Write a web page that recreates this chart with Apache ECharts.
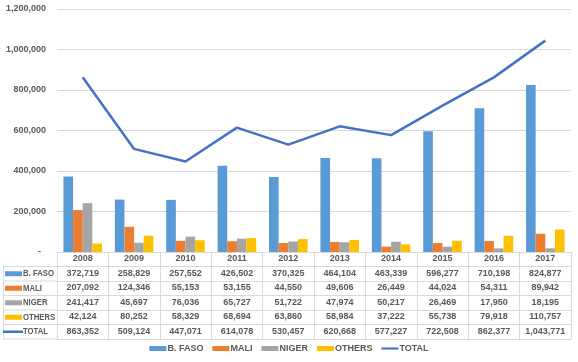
<!DOCTYPE html>
<html>
<head>
<meta charset="utf-8">
<script src="https://cdn.jsdelivr.net/npm/echarts@6/dist/echarts.min.js"></script>
<style>html,body{margin:0;padding:0;background:#fff;}#c{width:578px;height:362px;}</style>
</head>
<body>
<div id="c"></div>
<script>
const years = ['2008','2009','2010','2011','2012','2013','2014','2015','2016','2017'];
const bfaso = [372719,258829,257552,426502,370325,464104,463339,596277,710198,824877];
const mali = [207092,124346,55153,53155,44550,49606,26449,44024,54311,89942];
const niger = [241417,45697,76036,65727,51722,47974,50217,26469,17950,18195];
const others = [42124,80252,58329,68694,63860,58984,37222,55738,79918,110757];
const total = [863352,509124,447071,614078,530457,620668,577227,722508,862377,1043771];
const rowNames = ['B. FASO','MALI','NIGER','OTHERS','TOTAL'];
const yTicks = [0,200000,400000,600000,800000,1000000,1200000];

const colors = ['#5B9BD5','#ED7D31','#A5A5A5','#FFC000','#4472C4'];
const rows = [bfaso, mali, niger, others, total];
const txt = '#595959';
const lineC = '#D9D9D9';
const FONT = 'Liberation Sans, Arial, sans-serif';
const W = 578, H = 362;
const gridL = 57, gridR = 7, gridT = 9, gridB = 110;
const axisY = H - gridB;
const rowH = 14.5;
const fmt = v => v.toLocaleString('en-US');

const labelStyle = {fontSize: 9, fontWeight: 'bold', color: txt, fontFamily: FONT};

const xAxes = [];
xAxes.push({
  type: 'category', data: years, position: 'bottom', offset: 0,
  axisLine: {show: true, lineStyle: {color: lineC, width: 1}},
  axisTick: {show: true, interval: 0, length: rowH, lineStyle: {color: lineC}},
  axisLabel: Object.assign({interval: 0, margin: 7, verticalAlign: 'middle'}, labelStyle)
});
rows.forEach((arr, k) => {
  xAxes.push({
    type: 'category', data: years, position: 'bottom', offset: rowH * (k + 1),
    axisLine: {show: true, lineStyle: {color: lineC, width: 1}},
    axisTick: {show: true, interval: 0, length: rowH, lineStyle: {color: lineC}},
    axisLabel: Object.assign({interval: 0, margin: 7, verticalAlign: 'middle',
      formatter: (v, i) => fmt(arr[i])}, labelStyle)
  });
});
xAxes.push({
  type: 'category', data: years, position: 'bottom', offset: rowH * 6,
  axisLine: {show: true, lineStyle: {color: lineC, width: 1}},
  axisTick: {show: false}, axisLabel: {show: false}
});

const graphics = [];
for (let k = 1; k <= 6; k++) {
  const y = axisY + rowH * k;
  graphics.push({type: 'line', shape: {x1: 3, y1: y, x2: gridL, y2: y}, style: {stroke: lineC, lineWidth: 1}, silent: true});
}
graphics.push({type: 'line', shape: {x1: 3.5, y1: axisY + rowH, x2: 3.5, y2: axisY + rowH * 6}, style: {stroke: lineC, lineWidth: 1}, silent: true});
rowNames.forEach((n, k) => {
  const yMid = axisY + rowH * (k + 1) + rowH / 2;
  if (k < 4) {
    graphics.push({type: 'rect', shape: {x: 5, y: yMid - 2.5, width: 17, height: 5}, style: {fill: colors[k]}, silent: true});
  } else {
    graphics.push({type: 'line', shape: {x1: 3, y1: yMid, x2: 23, y2: yMid}, style: {stroke: colors[4], lineWidth: 2.5}, silent: true});
  }
  graphics.push({type: 'text', x: 23, y: yMid, scaleX: 0.86, style: {text: n, fill: txt, font: 'bold 9px ' + FONT, verticalAlign: 'middle'}, silent: true});
});

const chart = echarts.init(document.getElementById('c'));
chart.setOption({
  animation: false,
  textStyle: {fontFamily: FONT},
  grid: {left: gridL, right: gridR, top: gridT, bottom: gridB, containLabel: false},
  legend: {
    bottom: 4, left: 'center', itemWidth: 17, itemHeight: 5, itemGap: 9,
    textStyle: Object.assign({padding: [0, 0, 0, -4]}, labelStyle),
    data: rowNames.slice(0, 4).map(n => ({name: n, icon: 'rect'})).concat([
      {name: 'TOTAL', icon: 'path://M0,0L20,0L20,2.5L0,2.5Z'}
    ])
  },
  xAxis: xAxes,
  yAxis: {
    type: 'value', min: 0, max: 1200000, interval: 200000,
    axisLine: {show: false}, axisTick: {show: false},
    splitLine: {lineStyle: {color: lineC, width: 1}},
    axisLabel: Object.assign({margin: 11, formatter: v => v === 0 ? '-  ' : fmt(v)}, labelStyle)
  },
  graphic: graphics,
  series: [
    {name: rowNames[0], type: 'bar', data: bfaso, itemStyle: {color: colors[0]}, barGap: '0%', barCategoryGap: '25%'},
    {name: rowNames[1], type: 'bar', data: mali, itemStyle: {color: colors[1]}, barGap: '0%', barCategoryGap: '25%'},
    {name: rowNames[2], type: 'bar', data: niger, itemStyle: {color: colors[2]}, barGap: '0%', barCategoryGap: '25%'},
    {name: rowNames[3], type: 'bar', data: others, itemStyle: {color: colors[3]}, barGap: '0%', barCategoryGap: '25%'},
    {name: rowNames[4], type: 'line', data: total, symbol: 'none', lineStyle: {color: colors[4], width: 2.5}, itemStyle: {color: colors[4]}, z: 5}
  ]
});
</script>
</body>
</html>
